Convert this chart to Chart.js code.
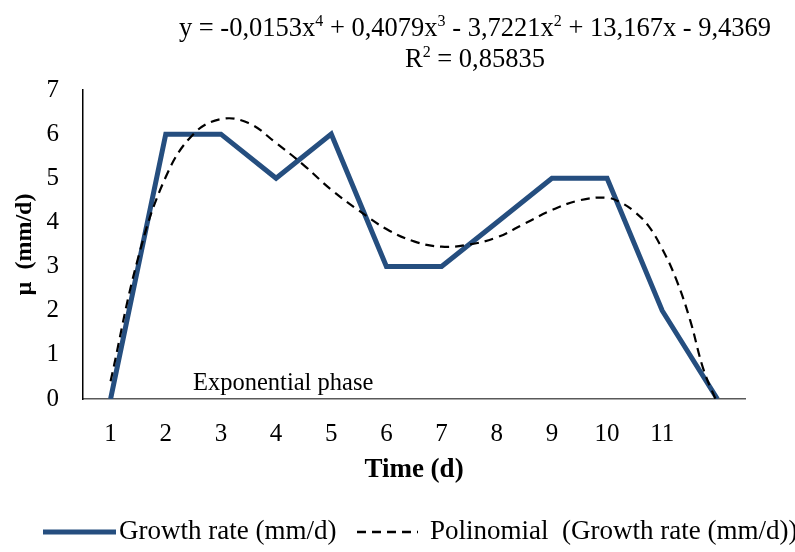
<!DOCTYPE html>
<html>
<head>
<meta charset="utf-8">
<script src="https://cdn.jsdelivr.net/npm/chart.js@4.4.1/dist/chart.umd.min.js"></script>
<style>
  html, body { margin: 0; padding: 0; background: #fff; }
  #wrap { width: 795px; height: 552px; }
</style>
</head>
<body>
<div id="wrap"><canvas id="c" width="795" height="552"></canvas></div>
<script>
// Daily growth rate (mm/d) over the culture period
const days = [1, 2, 3, 4, 5, 6, 7, 8, 9, 10, 11, 12];
const growthRate = [0, 6, 6, 5, 6, 3, 3, 4, 5, 5, 2, 0];

// 4th-order polynomial trend, sampled along the curve
const trendDays = [1, 1.5, 2, 2.5, 3, 3.5, 4, 4.5, 5, 5.5, 6, 6.5, 7, 7.5, 8, 8.5, 9, 9.5, 10, 10.25, 10.5, 10.75, 11, 11.25, 11.5, 11.75, 12];
const trendRate = [0.40, 3.2, 5.03, 6.0, 6.34, 6.25, 5.8, 5.3, 4.74, 4.27, 3.85, 3.57, 3.45, 3.5, 3.66, 3.97, 4.28, 4.5, 4.56, 4.45, 4.24, 3.92, 3.4, 2.72, 1.81, 0.66, -0.1];

// Axis ticks
const xTickValues = [1, 2, 3, 4, 5, 6, 7, 8, 9, 10, 11];
const yTickValues = [0, 1, 2, 3, 4, 5, 6, 7];

// Trend equation text
const equationRuns = [
  ['y = -0,0153x', false], ['4', true], [' + 0,4079x', false], ['3', true],
  [' - 3,7221x', false], ['2', true], [' + 13,167x - 9,4369', false]
];
const r2Runs = [['R', false], ['2', true], [' = 0,85835', false]];

const SERIF = '"Liberation Serif", "Times New Roman", serif';
const BLUE = '#254e7f';

function drawRuns(ctx, runs, cx, y, size) {
  const supSize = Math.round(size * 0.6);
  let total = 0;
  runs.forEach(([t, sup]) => {
    ctx.font = (sup ? supSize : size) + 'px ' + SERIF;
    total += ctx.measureText(t).width;
  });
  let x = cx - total / 2;
  ctx.textAlign = 'left';
  ctx.textBaseline = 'alphabetic';
  runs.forEach(([t, sup]) => {
    ctx.font = (sup ? supSize : size) + 'px ' + SERIF;
    ctx.fillText(t, x, sup ? y - size * 0.38 : y);
    x += ctx.measureText(t).width;
  });
}

const annotations = {
  id: 'annotations',
  afterDraw(chart) {
    const ctx = chart.ctx;
    ctx.save();
    ctx.fillStyle = '#000';

    // trend equation and R²
    drawRuns(ctx, equationRuns, 475, 36, 26.5);
    drawRuns(ctx, r2Runs, 475, 67, 26.5);

    // phase label
    ctx.font = '24.5px ' + SERIF;
    ctx.textAlign = 'left';
    ctx.textBaseline = 'alphabetic';
    ctx.fillText('Exponential phase', 193, 390);

    // legend
    const ly = 532;
    const ds = chart.data.datasets;
    ctx.lineCap = 'butt';
    ctx.strokeStyle = ds[1].borderColor;
    ctx.lineWidth = ds[1].borderWidth;
    ctx.beginPath(); ctx.moveTo(43, ly); ctx.lineTo(116, ly); ctx.stroke();
    ctx.font = '27px ' + SERIF;
    ctx.textBaseline = 'middle';
    ctx.fillText(ds[1].label, 119, ly);

    ctx.strokeStyle = ds[0].borderColor;
    ctx.lineWidth = 2.5;
    ctx.setLineDash(ds[0].borderDash);
    ctx.beginPath(); ctx.moveTo(357, ly); ctx.lineTo(418, ly); ctx.stroke();
    ctx.setLineDash([]);
    ctx.fillText(ds[0].label, 430, ly);
    ctx.restore();
  }
};

new Chart(document.getElementById('c'), {
  type: 'line',
  data: {
    datasets: [
      {
        label: 'Polinomial  (Growth rate (mm/d))',
        data: trendDays.map((d, i) => ({ x: d, y: trendRate[i] })),
        borderColor: '#000',
        borderWidth: 2.2,
        borderDash: [9, 6],
        tension: 0.4,
        pointRadius: 0,
        fill: false,
        order: 0
      },
      {
        label: 'Growth rate (mm/d)',
        data: days.map((d, i) => ({ x: d, y: growthRate[i] })),
        borderColor: BLUE,
        borderWidth: 5,
        borderJoinStyle: 'miter',
        tension: 0,
        pointRadius: 0,
        fill: false,
        order: 1
      }
    ]
  },
  options: {
    responsive: false,
    animation: false,
    layout: { padding: { top: 90, right: 50, bottom: 53, left: 0 } },
    plugins: { legend: { display: false }, tooltip: { enabled: false } },
    scales: {
      x: {
        type: 'linear',
        min: 0.5,
        max: 12.5,
        afterBuildTicks: (axis) => { axis.ticks = xTickValues.map(v => ({ value: v })); },
        afterFit: (axis) => { axis.height = 100; },
        grid: { display: false, drawTicks: false },
        border: { display: true, color: '#595959', width: 1.5 },
        ticks: {
          color: '#000',
          padding: 20,
          maxRotation: 0,
          autoSkip: false,
          font: { family: SERIF, size: 25 }
        },
        title: {
          display: true,
          text: 'Time (d)',
          color: '#000',
          padding: { top: 0, bottom: 13 },
          font: { family: SERIF, size: 27, weight: 'bold' }
        }
      },
      y: {
        min: 0,
        max: 7,
        afterBuildTicks: (axis) => { axis.ticks = yTickValues.map(v => ({ value: v })); },
        afterFit: (axis) => { axis.width = 83; },
        grid: { display: false, drawTicks: false },
        border: { display: true, color: '#000', width: 1.5 },
        ticks: {
          color: '#000',
          padding: 24,
          font: { family: SERIF, size: 25 }
        },
        title: {
          display: true,
          text: 'µ  (mm/d)',
          color: '#000',
          padding: { top: 10, bottom: 4 },
          font: { family: SERIF, size: 24, weight: 'bold' }
        }
      }
    }
  },
  plugins: [annotations]
});
</script>
</body>
</html>
